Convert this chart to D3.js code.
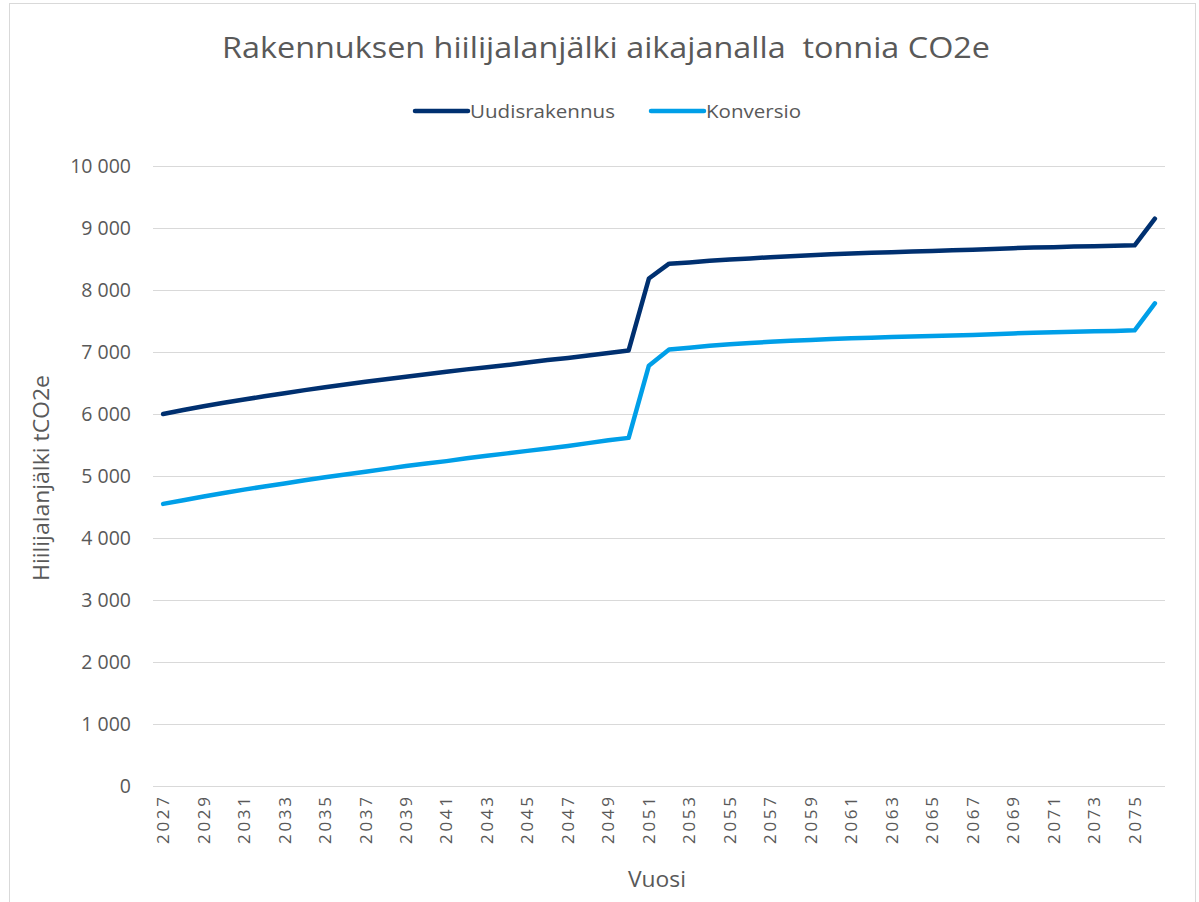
<!DOCTYPE html>
<html>
<head>
<meta charset="utf-8">
<script src="https://cdn.jsdelivr.net/npm/d3@7"></script>
<style>
  body { margin: 0; background: #fff; }
  svg text { font-family: "Open Sans", sans-serif; fill: #595959; }
</style>
</head>
<body>
<div id="chart"></div>
<script>
var years = d3.range(2027, 2077)
var uudis = [6000, 6065, 6125, 6180, 6235, 6285, 6335, 6385, 6430, 6475, 6520, 6560,
  6600, 6640, 6680, 6720, 6755, 6790, 6830, 6870, 6905, 6945, 6985, 7025,
  8185, 8425, 8445, 8470, 8490, 8510, 8530, 8545, 8560, 8575, 8590, 8600, 8610,
  8620, 8630, 8640, 8650, 8660, 8675, 8685, 8690, 8700, 8705, 8712, 8720, 9150]
var konversio = [4550, 4610, 4670, 4725, 4780, 4830, 4880, 4930, 4980, 5025, 5070, 5115,
  5160, 5200, 5240, 5285, 5325, 5365, 5405, 5445, 5485, 5530, 5575, 5615,
  6780, 7040, 7070, 7100, 7125, 7145, 7165, 7180, 7195, 7210, 7220, 7230, 7240,
  7250, 7260, 7268, 7276, 7285, 7300, 7310, 7318, 7326, 7333, 7340, 7350, 7785]
var yTicks = [0, 1000, 2000, 3000, 4000, 5000, 6000, 7000, 8000, 9000, 10000]
var seriesNames = ['Uudisrakennus', 'Konversio']
var colors = ['#003070', '#009fe8']

var W = 1199, H = 902
  , pLeft = 153, pRight = 1165, pTop = 166, pBottom = 786

var svg = d3.select('#chart').append('svg').attr('width', W).attr('height', H)

svg.append('rect')
  .attr('x', 9.5).attr('y', 3.5).attr('width', 1186).attr('height', 920)
  .attr('fill', 'none').attr('stroke', '#d9d9d9')

var x = d3.scaleBand().domain(years).range([pLeft, pRight])
var y = d3.scaleLinear().domain([0, 10000]).range([pBottom, pTop])
var fmt = function(d){ return d3.format(',')(d).replace(/,/g, '\u00a0') }

// grid
svg.append('g').selectAll('line').data(yTicks).enter().append('line')
  .attr('x1', pLeft).attr('x2', pRight)
  .attr('y1', function(d){ return y(d) + 0.5 }).attr('y2', function(d){ return y(d) + 0.5 })
  .attr('stroke', '#d9d9d9').attr('stroke-width', 1.2)

// y labels
svg.append('g').selectAll('text').data(yTicks).enter().append('text')
  .attr('x', 131).attr('y', function(d){ return y(d) + 7 })
  .attr('text-anchor', 'end').style('font-size', '19.5px')
  .text(fmt)

// x labels
svg.append('g').selectAll('text').data(years.filter(function(d, i){ return i % 2 == 0 }))
  .enter().append('text')
  .attr('transform', function(d){ return 'translate(' + [x(d) + x.bandwidth() / 2 + 6, 797] + ') rotate(-90)' })
  .attr('text-anchor', 'end').style('font-size', '17px')
  .attr('textLength', 47).attr('lengthAdjust', 'spacing')
  .text(function(d){ return d })

// lines
var line = d3.line()
  .x(function(d, i){ return x(years[i]) + x.bandwidth() / 2 })
  .y(function(d){ return y(d) })

svg.append('g').selectAll('path').data([uudis, konversio]).enter().append('path')
  .attr('d', line)
  .attr('fill', 'none')
  .attr('stroke', function(d, i){ return colors[i] })
  .attr('stroke-width', 4.5)
  .attr('stroke-linejoin', 'round').attr('stroke-linecap', 'round')

// title
svg.append('text')
  .attr('x', 606).attr('y', 58).attr('text-anchor', 'middle')
  .attr('textLength', 768).attr('lengthAdjust', 'spacingAndGlyphs')
  .style('font-size', '30px').style('white-space', 'pre')
  .text('Rakennuksen hiilijalanjälki aikajanalla  tonnia CO2e')

// legend
var legendX = [415, 651], legendW = [145, 95]
var lg = svg.append('g').selectAll('g').data(seriesNames).enter().append('g')
  .attr('transform', function(d, i){ return 'translate(' + [legendX[i], 111] + ')' })
lg.append('line').attr('x1', 0).attr('x2', 53)
  .attr('stroke', function(d, i){ return colors[i] })
  .attr('stroke-width', 4.5).attr('stroke-linecap', 'round')
lg.append('text').attr('x', 55).attr('y', 6.5)
  .attr('textLength', function(d, i){ return legendW[i] }).attr('lengthAdjust', 'spacingAndGlyphs')
  .style('font-size', '19px')
  .text(function(d){ return d })

// axis titles
svg.append('text')
  .attr('transform', 'translate(' + [49, 478] + ') rotate(-90)')
  .attr('text-anchor', 'middle')
  .attr('textLength', 206).attr('lengthAdjust', 'spacingAndGlyphs')
  .style('font-size', '21px')
  .text('Hiilijalanjälki tCO2e')

svg.append('text')
  .attr('x', 657).attr('y', 887).attr('text-anchor', 'middle')
  .attr('textLength', 58).attr('lengthAdjust', 'spacingAndGlyphs')
  .style('font-size', '21px')
  .text('Vuosi')
</script>
</body>
</html>
